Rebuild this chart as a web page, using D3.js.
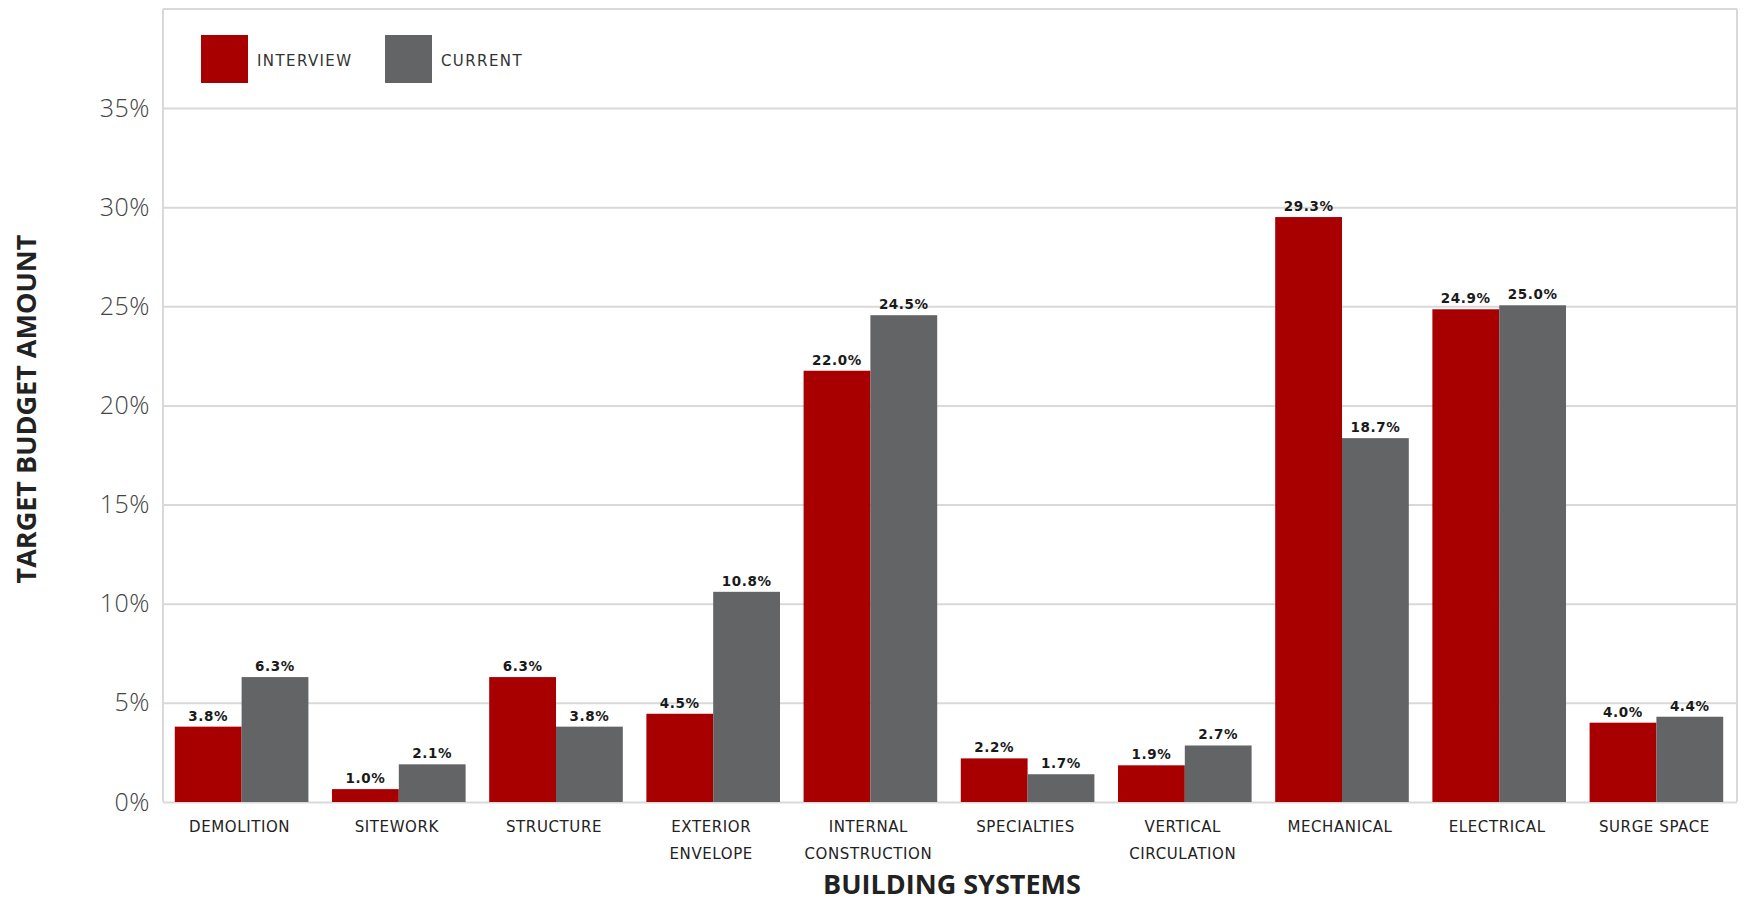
<!DOCTYPE html>
<html>
<head>
<meta charset="utf-8">
<script src="https://cdn.jsdelivr.net/npm/d3@7"></script>
<style>
  html, body { margin: 0; padding: 0; background: #fff; }
  svg { display: block; }
</style>
</head>
<body>
<svg id="chart" width="1744" height="903"></svg>
<script>
// ---- data ----
const categories = ["DEMOLITION", "SITEWORK", "STRUCTURE", "EXTERIOR|ENVELOPE", "INTERNAL|CONSTRUCTION",
  "SPECIALTIES", "VERTICAL|CIRCULATION", "MECHANICAL", "ELECTRICAL", "SURGE SPACE"];
const seriesNames = ["INTERVIEW", "CURRENT"];
const interviewValues = [3.8, 0.65, 6.3, 4.45, 21.75, 2.2, 1.85, 29.5, 24.85, 4.0];
const currentValues = [6.3, 1.9, 3.8, 10.6, 24.55, 1.4, 2.85, 18.35, 25.05, 4.3];
const interviewLabels = ["3.8%", "1.0%", "6.3%", "4.5%", "22.0%", "2.2%", "1.9%", "29.3%", "24.9%", "4.0%"];
const currentLabels = ["6.3%", "2.1%", "3.8%", "10.8%", "24.5%", "1.7%", "2.7%", "18.7%", "25.0%", "4.4%"];
const yTicks = [0, 5, 10, 15, 20, 25, 30, 35];
const colors = ["#a80000", "#636466"];

// ---- layout ----
const svg = d3.select("#chart");
const pL = 163, pR = 1735, pT = 9, pB = 802;

const x0 = d3.scaleBand().domain(categories).range([pL, pR]).paddingInner(0.15).paddingOuter(0.075);
const x1 = d3.scaleBand().domain(seriesNames).range([0, x0.bandwidth()]);
const y = d3.scaleLinear().domain([0, 35]).range([pB, 108]);

// frame
const frame = svg.append("g").attr("stroke", "#d9d9d9").attr("stroke-width", 2).attr("fill", "none");
frame.append("line").attr("x1", pL).attr("x2", pL).attr("y1", pT).attr("y2", pB);
frame.append("line").attr("x1", pL).attr("x2", pR + 2).attr("y1", pT).attr("y2", pT);
frame.append("line").attr("x1", pR + 2).attr("x2", pR + 2).attr("y1", pT).attr("y2", pB);

// grid + y axis
const yAxis = d3.axisLeft(y).tickValues(yTicks).tickFormat(d => d + "%").tickSize(-(pR + 2 - pL)).tickPadding(13);
const ga = svg.append("g").attr("transform", `translate(${pL},0)`).call(yAxis);
ga.select(".domain").remove();
ga.selectAll(".tick line").attr("stroke", "#d9d9d9").attr("stroke-width", 2);
ga.selectAll(".tick text")
  .attr("font-family", "'Open Sans', sans-serif").attr("font-size", 25).attr("font-weight", 300)
  .attr("fill", "#444").attr("letter-spacing", 0.5);

// bars
const series = [
  { name: seriesNames[0], values: interviewValues, labels: interviewLabels, color: colors[0] },
  { name: seriesNames[1], values: currentValues, labels: currentLabels, color: colors[1] }
];
series.forEach(s => {
  const g = svg.append("g");
  g.selectAll("rect").data(categories).join("rect")
    .attr("x", (c) => x0(c) + x1(s.name))
    .attr("y", (c, i) => y(s.values[i]))
    .attr("width", x1.bandwidth())
    .attr("height", (c, i) => y(0) - y(s.values[i]))
    .attr("fill", s.color);
  g.selectAll("text").data(categories).join("text")
    .attr("x", (c) => x0(c) + x1(s.name) + x1.bandwidth() / 2)
    .attr("y", (c, i) => y(s.values[i]) - 6)
    .attr("text-anchor", "middle")
    .attr("font-family", "'DejaVu Sans', sans-serif").attr("font-size", 13.5).attr("font-weight", 700)
    .attr("fill", "#1a1a1a").attr("letter-spacing", 0.6)
    .text((c, i) => s.labels[i]);
});

// category labels
const cl = svg.append("g");
categories.forEach(c => {
  const lines = c.split("|");
  const cx = x0(c) + x0.bandwidth() / 2 - 2;
  const t = cl.append("text")
    .attr("x", cx)
    .attr("y", 832)
    .attr("text-anchor", "middle")
    .attr("font-family", "'DejaVu Sans', sans-serif").attr("font-size", 15)
    .attr("fill", "#222").attr("letter-spacing", 0.6);
  lines.forEach((l, k) => t.append("tspan").attr("x", cx).attr("dy", k === 0 ? 0 : 27).text(l));
});

// legend
const legendX = [201, 385];
series.forEach((s, i) => {
  svg.append("rect").attr("x", legendX[i]).attr("y", 35).attr("width", 47).attr("height", 48).attr("fill", s.color);
  svg.append("text").attr("x", legendX[i] + 56).attr("y", 66)
    .attr("font-family", "'DejaVu Sans', sans-serif").attr("font-size", 15)
    .attr("fill", "#333").attr("letter-spacing", 1.4)
    .text(s.name);
});

// axis titles
svg.append("text").attr("x", 952).attr("y", 894)
  .attr("text-anchor", "middle")
  .attr("font-family", "'Open Sans', sans-serif").attr("font-weight", 700).attr("font-size", 27)
  .attr("fill", "#222").text("BUILDING SYSTEMS");
svg.append("text").attr("transform", `translate(36,409) rotate(-90)`)
  .attr("text-anchor", "middle")
  .attr("font-family", "'Open Sans', sans-serif").attr("font-weight", 700).attr("font-size", 27)
  .attr("fill", "#222").text("TARGET BUDGET AMOUNT");
</script>
</body>
</html>
